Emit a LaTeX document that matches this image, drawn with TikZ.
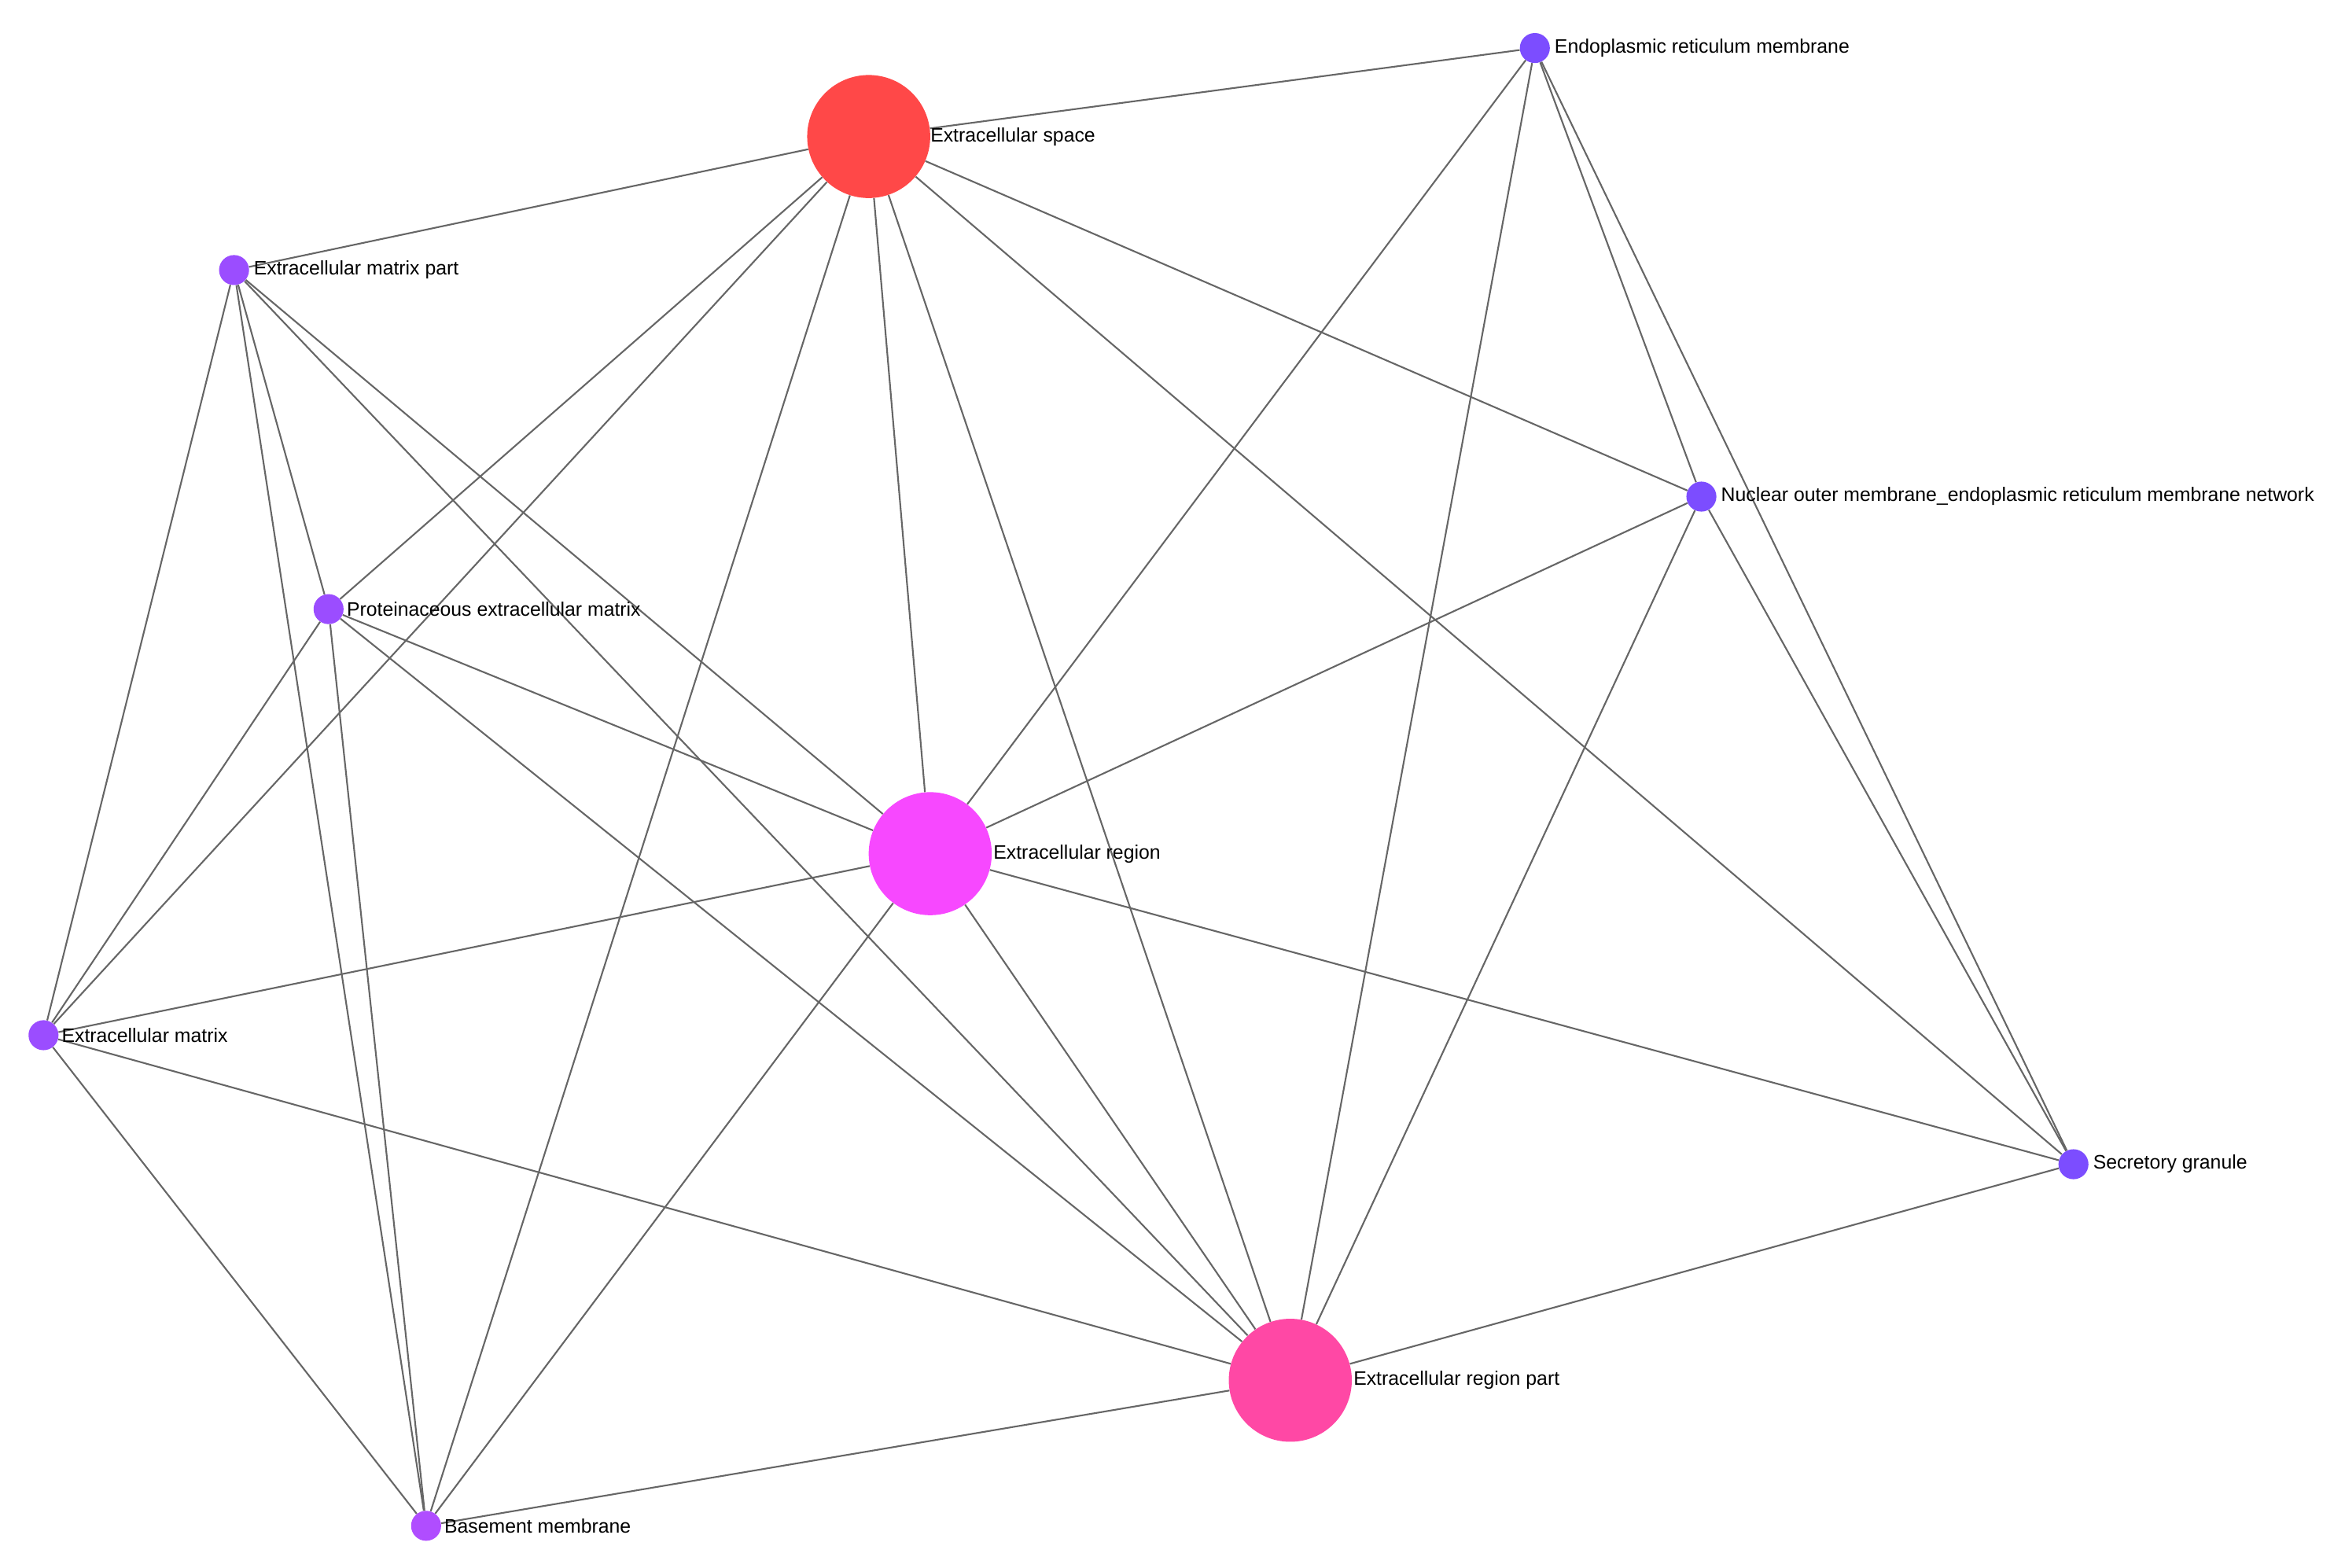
\documentclass[tikz,border=0pt]{standalone}
\usepackage{fontspec}
\setmainfont{Liberation Sans}
\begin{document}
\begin{tikzpicture}[x=1pt,y=-1pt,
  n/.style={circle,inner sep=0pt,minimum size=#1},
  lab/.style={anchor=west,inner sep=0pt,font=\fontsize{13}{14}\selectfont},
  e/.style={draw=black!60,line width=1.1pt}]
\useasboundingbox[fill=white] (0,0) rectangle (1563,1045);
\definecolor{pa}{HTML}{7C4DFF}
\definecolor{pb}{HTML}{9B4DFF}
\definecolor{pc}{HTML}{B04DFF}
\node[n=82pt,fill={rgb,255:red,255;green,72;blue,72}] (ES) at (579,91) {};
\node[n=82pt,fill={rgb,255:red,247;green,72;blue,255}] (ER) at (620,569) {};
\node[n=82pt,fill={rgb,255:red,255;green,72;blue,165}] (ERP) at (860,920) {};
\node[n=20pt,fill=pa] (ERM) at (1023,32) {};
\node[n=20pt,fill=pa] (NOM) at (1134,331) {};
\node[n=20pt,fill=pa] (SG) at (1382,776) {};
\node[n=20pt,fill=pb] (EMP) at (156,180) {};
\node[n=20pt,fill=pb] (PEM) at (219,406) {};
\node[n=20pt,fill=pb] (EM) at (29,690) {};
\node[n=20pt,fill=pc] (BM) at (284,1017) {};
\foreach \a/\b in {ES/ERM,ES/EMP,ES/PEM,ES/EM,ES/BM,ES/ER,ES/ERP,ES/SG,ES/NOM,
ERM/ER,ERM/ERP,ERM/NOM,ERM/SG,EMP/EM,EMP/BM,EMP/PEM,EMP/ER,EMP/ERP,
NOM/ER,NOM/ERP,NOM/SG,PEM/EM,PEM/BM,PEM/ER,PEM/ERP,ER/EM,ER/BM,ER/ERP,ER/SG,
EM/ERP,EM/BM,SG/ERP,ERP/BM}
 \draw[e] (\a) -- (\b);
\node[lab] (lES) at (620,91) {Extracellular space};
\node[lab] (lER) at (662,569) {Extracellular region};
\node[lab] (lERP) at (902,920) {Extracellular region part};
\node[lab] (lERM) at (1036,32) {Endoplasmic reticulum membrane};
\node[lab] (lNOM) at (1147,331) {Nuclear outer membrane\_endoplasmic reticulum membrane network};
\node[lab] (lSG) at (1395,776) {Secretory granule};
\node[lab] (lEMP) at (169,180) {Extracellular matrix part};
\node[lab] (lPEM) at (231,406) {Proteinaceous extracellular matrix};
\node[lab] (lEM) at (41,690) {Extracellular matrix};
\node[lab] (lBM) at (296,1017) {Basement membrane};
\end{tikzpicture}
\end{document}
